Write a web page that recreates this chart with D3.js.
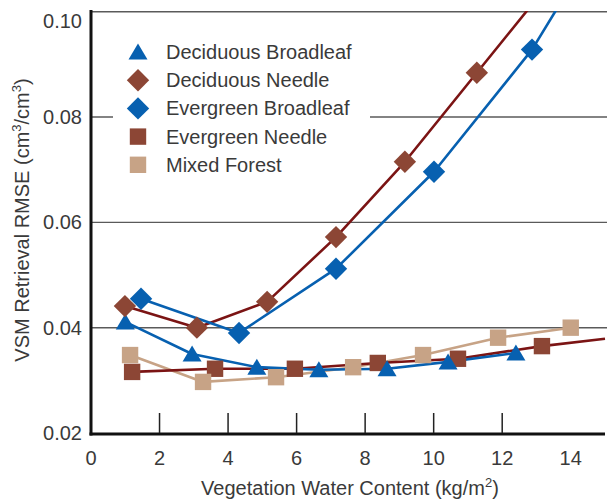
<!DOCTYPE html>
<html><head><meta charset="utf-8">
<script src="https://cdn.jsdelivr.net/npm/d3@7"></script>
<style>body{margin:0;background:#fff;} text{font-family:"Liberation Sans",Arial,sans-serif;fill:#3a3a3a;}</style>
</head><body><svg id="c" width="607" height="500"></svg>
<script>
// ---- data ----
const seriesNames = ["Deciduous Broadleaf","Deciduous Needle","Evergreen Broadleaf","Evergreen Needle","Mixed Forest"];
const dbX = [1.0, 2.95, 4.84, 6.65, 8.64, 10.42, 12.4];
const dbY = [0.0411, 0.0350, 0.0325, 0.0320, 0.0322, 0.0335, 0.0352];
const dnX = [0.99, 3.09, 5.14, 7.15, 9.16, 11.26];
const dnY = [0.0441, 0.0400, 0.0449, 0.0572, 0.0715, 0.0884];
const dnTail = [12.85, 0.1012];
const ebX = [1.46, 4.32, 7.15, 10.01, 12.87];
const ebY = [0.0455, 0.0390, 0.0512, 0.0696, 0.0928];
const ebTail = [13.62, 0.1008];
const enX = [1.2, 3.62, 5.95, 8.37, 10.71, 13.16];
const enY = [0.0316, 0.0322, 0.0322, 0.0333, 0.0341, 0.0365];
const enTail = [15.0, 0.0379];
const mfX = [1.14, 3.27, 5.40, 7.65, 9.69, 11.88, 14.0];
const mfY = [0.0348, 0.0297, 0.0306, 0.0325, 0.0348, 0.0381, 0.0400];
const xTickLabels = [0, 2, 4, 6, 8, 10, 12, 14];
const innerTicks = [2, 4, 6, 8, 10, 12];
const yTickLabels = [0.02, 0.04, 0.06, 0.08, 0.10];
const gridValues = [0.04, 0.06, 0.08, 0.10];

const BLUE = "#0760b0", BROWN = "#8c4635", DARKRED = "#7b1414", TAN = "#c7a386";

const svg = d3.select("#c");
const x = d3.scaleLinear().domain([0, 15]).range([91, 605]);
const y = d3.scaleLinear().domain([0.02, 0.10]).range([433, 11.7]);

svg.append("defs").append("clipPath").attr("id", "clip")
  .append("rect").attr("x", 91).attr("y", 11).attr("width", 516).attr("height", 423);

// gridlines
svg.append("g").selectAll("line").data(gridValues).join("line")
  .attr("x1", 91).attr("x2", 607)
  .attr("y1", d => y(d)).attr("y2", d => y(d))
  .attr("stroke", "#5a5a5a").attr("stroke-width", 1.4);

// legend background
svg.append("rect").attr("x", 113).attr("y", 32).attr("width", 257).attr("height", 152).attr("fill", "#fff");

// lines
const zip = (xs, ys) => xs.map((v, i) => [v, ys[i]]);
const lineLin = d3.line().x(d => x(d[0])).y(d => y(d[1]));
const lines = svg.append("g").attr("clip-path", "url(#clip)").attr("fill", "none")
  .attr("stroke-width", 2.6).attr("stroke-linejoin", "round");
lines.append("path").attr("d", lineLin(zip(mfX, mfY))).attr("stroke", TAN);
lines.append("path").attr("d", lineLin(zip(enX, enY).concat([enTail]))).attr("stroke", DARKRED);
lines.append("path").attr("d", lineLin(zip(dbX, dbY))).attr("stroke", BLUE);
lines.append("path").attr("d", lineLin(zip(dnX, dnY).concat([dnTail]))).attr("stroke", DARKRED);
lines.append("path").attr("d", lineLin(zip(ebX, ebY).concat([ebTail]))).attr("stroke", BLUE);

// marker shapes
const tri = "M0,-8.5L9.5,7.5L-9.5,7.5Z";
const sq = "M-8.2,-8.2H8.2V8.2H-8.2Z";
const dia = "M0,-11.2L11.2,0L0,11.2L-11.2,0Z";
function markers(xs, ys, path, color) {
  svg.append("g").selectAll("path").data(zip(xs, ys)).join("path")
    .attr("d", path).attr("fill", color)
    .attr("transform", d => `translate(${x(d[0])},${y(d[1])})`);
}
markers(enX, enY, sq, BROWN);
markers(mfX, mfY, sq, TAN);
markers(dbX, dbY, tri, BLUE);
markers(ebX, ebY, dia, BLUE);
markers(dnX, dnY, dia, BROWN);

// axes
svg.append("line").attr("x1", 91).attr("x2", 91).attr("y1", 10).attr("y2", 435.5).attr("stroke", "#111").attr("stroke-width", 3);
svg.append("line").attr("x1", 89.5).attr("x2", 605).attr("y1", 434).attr("y2", 434).attr("stroke", "#111").attr("stroke-width", 3);
svg.append("g").selectAll("line").data(innerTicks).join("line")
  .attr("x1", d => x(d)).attr("x2", d => x(d)).attr("y1", 433).attr("y2", 413)
  .attr("stroke", "#222").attr("stroke-width", 1.5);

svg.append("g").selectAll("text").data(xTickLabels).join("text")
  .attr("x", d => x(d)).attr("y", 458).attr("text-anchor", "middle").attr("dominant-baseline", "central")
  .attr("font-size", 20).text(d => d);
svg.append("g").selectAll("text").data(yTickLabels).join("text")
  .attr("x", 82).attr("y", d => y(d) + (d === 0.10 ? 9 : 0)).attr("text-anchor", "end").attr("dominant-baseline", "central")
  .attr("font-size", 20).text(d => d3.format(".2f")(d));

// axis titles
const xt = svg.append("text").attr("x", 350).attr("y", 488).attr("text-anchor", "middle")
  .attr("dominant-baseline", "central").attr("font-size", 20);
xt.append("tspan").text("Vegetation Water Content (kg/m");
xt.append("tspan").attr("font-size", 13).attr("dy", -6).text("2");
xt.append("tspan").attr("dy", 6).text(")");

const yt = svg.append("text").attr("transform", "translate(22,220) rotate(-90)").attr("text-anchor", "middle")
  .attr("dominant-baseline", "central").attr("font-size", 20);
yt.append("tspan").text("VSM Retrieval RMSE (cm");
yt.append("tspan").attr("font-size", 13).attr("dy", -6).text("3");
yt.append("tspan").attr("dy", 6).text("/cm");
yt.append("tspan").attr("font-size", 13).attr("dy", -6).text("3");
yt.append("tspan").attr("dy", 6).text(")");

// legend
const legShapes = [[tri, BLUE], [dia, BROWN], [dia, BLUE], [sq, BROWN], [sq, TAN]];
const leg = svg.append("g").selectAll("g").data(seriesNames).join("g")
  .attr("transform", (d, i) => `translate(138,${52 + i * 28.2})`);
leg.append("path").attr("d", (d, i) => legShapes[i][0]).attr("fill", (d, i) => legShapes[i][1]);
leg.append("text").attr("x", 28).attr("dominant-baseline", "central").attr("font-size", 20).text(d => d);
</script></body></html>
